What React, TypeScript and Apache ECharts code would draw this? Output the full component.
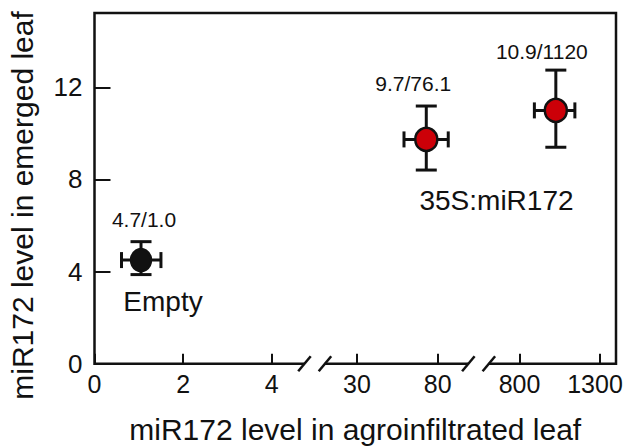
import React, { useEffect, useRef } from "react";
import * as echarts from "echarts";

// ---- data ----
const groupNames = ["Empty", "35S:miR172"];
const pointLabels = ["4.7/1.0", "9.7/76.1", "10.9/1120"];
const xValues = [1.05, 72.9, 1027];
const yValues = [4.5, 9.74, 11.0];
const xLow = [0.61, 59.1, 893];
const xHigh = [1.5, 86.5, 1146];
const yLow = [3.87, 8.41, 9.4];
const yHigh = [5.3, 11.19, 12.75];
const pointSegment = [0, 1, 2];
const yTicks = [0, 4, 8, 12];
const xTicksSeg1 = [0, 2, 4];
const xTicksSeg2 = [30, 80];
const xTicksSeg3 = [800, 1300];
const xTitle = "miR172 level in agroinfiltrated leaf";
const yTitle = "miR172 level in emerged leaf";

// ---- layout of the broken x axis (three linear pieces) ----
const FONT = "Liberation Sans";
const INK = "#111";
const RED = "#cc0008";
const TOP = 13;
const BOTTOM = 83.3;
const Y_MAX = 15.23;
const segAxes = [
  { left: 94.5, width: 220.2, min: 0, max: 4.971, ticks: xTicksSeg1 },
  { left: 314.7, width: 163.9, min: 3.8, max: 105.3, ticks: xTicksSeg2 },
  { left: 478.6, width: 137.4, min: 544.4, max: 1403, ticks: xTicksSeg3 },
];

export default function App() {
  const ref = useRef<HTMLDivElement>(null);

  useEffect(() => {
    if (!ref.current) return;
    const chart = echarts.init(ref.current, undefined, { renderer: "svg" });

    const grids: any[] = [
      {
        left: 94.5,
        right: 8,
        top: TOP,
        bottom: BOTTOM,
        show: true,
        borderColor: INK,
        borderWidth: 2.5,
        backgroundColor: "transparent",
        outerBoundsMode: "none",
      },
      ...segAxes.map((s) => ({
        left: s.left,
        width: s.width,
        top: TOP,
        bottom: BOTTOM,
        show: false,
        outerBoundsMode: "none",
      })),
    ];

    const lastTick = xTicksSeg3[xTicksSeg3.length - 1];

    const xAxes: any[] = [
      {
        gridIndex: 0,
        type: "value",
        min: 0,
        max: 1,
        axisLine: { show: false },
        axisTick: { show: false },
        axisLabel: { show: false },
        splitLine: { show: false },
        name: xTitle,
        nameLocation: "middle",
        nameGap: 51,
        nameTextStyle: { fontFamily: FONT, fontSize: 30, color: INK },
      },
      ...segAxes.map((s, i) => ({
        gridIndex: i + 1,
        type: "value",
        min: s.min,
        max: s.max,
        axisLine: { show: false },
        axisTick: {
          show: true,
          inside: true,
          length: 10,
          customValues: s.ticks,
          lineStyle: { color: INK, width: 2 },
        },
        axisLabel: {
          show: true,
          customValues: s.ticks,
          fontFamily: FONT,
          fontSize: 25,
          color: INK,
          margin: 8,
          formatter: (v: number) => (v === lastTick ? `{e|${v}}` : String(v)),
          rich: {
            e: { fontFamily: FONT, fontSize: 25, color: INK, padding: [0, 9, 0, 0] },
          },
        },
        splitLine: { show: false },
      })),
    ];

    const yAxes: any[] = [
      {
        gridIndex: 0,
        type: "value",
        min: 0,
        max: Y_MAX,
        axisLine: { show: false },
        axisTick: {
          show: true,
          inside: true,
          length: 16,
          customValues: yTicks,
          lineStyle: { color: INK, width: 2 },
        },
        axisLabel: {
          show: true,
          customValues: yTicks,
          fontFamily: FONT,
          fontSize: 26,
          color: INK,
          margin: 12,
          formatter: (v: number) => String(v),
        },
        splitLine: { show: false },
      },
      ...segAxes.map((_, i) => ({
        gridIndex: i + 1,
        type: "value",
        min: 0,
        max: Y_MAX,
        show: false,
      })),
    ];

    const series: any[] = [];

    // error bars
    xValues.forEach((x, i) => {
      const seg = pointSegment[i] + 1;
      series.push({
        type: "custom",
        xAxisIndex: seg,
        yAxisIndex: seg,
        silent: true,
        clip: false,
        z: 3,
        data: [[x, yValues[i], xLow[i], xHigh[i], yLow[i], yHigh[i]]],
        renderItem: (params: any, api: any) => {
          const xv = api.value(0);
          const yv = api.value(1);
          const l = api.coord([api.value(2), yv]);
          const r = api.coord([api.value(3), yv]);
          const b = api.coord([xv, api.value(4)]);
          const t = api.coord([xv, api.value(5)]);
          const st = { stroke: INK, lineWidth: 3 };
          const hc = 8;
          const vc = 10.5;
          return {
            type: "group",
            children: [
              { type: "line", shape: { x1: l[0], y1: l[1], x2: r[0], y2: r[1] }, style: st },
              { type: "line", shape: { x1: l[0], y1: l[1] - hc, x2: l[0], y2: l[1] + hc }, style: st },
              { type: "line", shape: { x1: r[0], y1: r[1] - hc, x2: r[0], y2: r[1] + hc }, style: st },
              { type: "line", shape: { x1: b[0], y1: b[1], x2: t[0], y2: t[1] }, style: st },
              { type: "line", shape: { x1: t[0] - vc, y1: t[1], x2: t[0] + vc, y2: t[1] }, style: st },
              { type: "line", shape: { x1: b[0] - vc, y1: b[1], x2: b[0] + vc, y2: b[1] }, style: st },
            ],
          };
        },
      });
    });

    // points with value labels
    const labelOffsets = [
      [3, -41],
      [-13, -56],
      [-14, -58.6],
    ];
    xValues.forEach((x, i) => {
      const seg = pointSegment[i] + 1;
      series.push({
        type: "scatter",
        xAxisIndex: seg,
        yAxisIndex: seg,
        z: 5,
        symbol: "circle",
        symbolSize: i === 0 ? [20, 22] : [22, 23],
        itemStyle: {
          color: i === 0 ? INK : RED,
          borderColor: INK,
          borderWidth: 2.5,
          opacity: 1,
        },
        label: {
          show: true,
          position: "inside",
          offset: labelOffsets[i],
          formatter: () => pointLabels[i],
          fontFamily: FONT,
          fontSize: 21,
          color: INK,
        },
        data: [[x, yValues[i]]],
      });
    });

    // axis break marks at the joins of the pieces
    [0, 1].forEach((i) => {
      series.push({
        type: "custom",
        xAxisIndex: i + 1,
        yAxisIndex: i + 1,
        silent: true,
        clip: false,
        z: 10,
        data: [[segAxes[i].max, 0]],
        renderItem: (params: any, api: any) => {
          const c = api.coord([api.value(0), api.value(1)]);
          const cx = c[0];
          const cy = c[1];
          const st = { stroke: INK, lineWidth: 2.5 };
          return {
            type: "group",
            children: [
              { type: "rect", shape: { x: cx - 10, y: cy - 4, width: 20, height: 8 }, style: { fill: "#fff" } },
              { type: "line", shape: { x1: cx - 16.5, y1: cy + 7.5, x2: cx - 4, y2: cy - 7.5 }, style: st },
              { type: "line", shape: { x1: cx + 4, y1: cy + 7.5, x2: cx + 16.5, y2: cy - 7.5 }, style: st },
            ],
          };
        },
      });
    });

    const centered = {
      textAlign: "center",
      textVerticalAlign: "middle",
      align: "center",
      verticalAlign: "middle",
    };

    chart.setOption({
      animation: false,
      backgroundColor: "#fff",
      grid: grids,
      xAxis: xAxes,
      yAxis: yAxes,
      series,
      graphic: [
        {
          type: "text",
          x: 22.5,
          y: 205.5,
          rotation: Math.PI / 2,
          style: { text: yTitle, fontFamily: FONT, fontSize: 30, fill: INK, ...centered },
        },
        {
          type: "text",
          x: 163,
          y: 301.7,
          style: { text: groupNames[0], fontFamily: FONT, fontSize: 28, fill: INK, ...centered },
        },
        {
          type: "text",
          x: 496.5,
          y: 200,
          style: { text: groupNames[1], fontFamily: FONT, fontSize: 28, fill: INK, ...centered },
        },
      ],
    });

    return () => chart.dispose();
  }, []);

  return (
    <div
      ref={ref}
      style={{ position: "absolute", left: 0, top: 0, width: 624, height: 447 }}
    />
  );
}
